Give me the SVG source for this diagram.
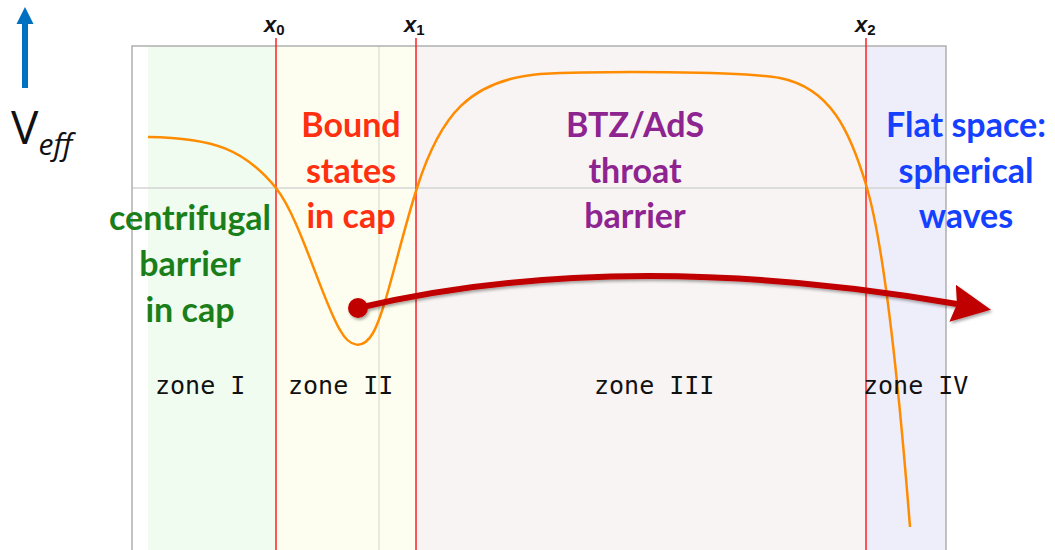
<svg xmlns="http://www.w3.org/2000/svg" width="1055" height="550" viewBox="0 0 1055 550">
<style>
.lbl{font-family:Lato,"Open Sans",sans-serif;font-weight:bold;font-size:34px;text-anchor:middle}
.zone{font-family:"DejaVu Sans Mono",monospace;font-size:25px;fill:#111}
.xl{font-family:"Liberation Sans",Arial,sans-serif;font-weight:bold;font-style:italic;font-size:22px;fill:#111}
.xs{font-size:15px;font-style:normal}
.bound{stroke:#ff2020;stroke-width:1.5}
</style>
<defs>
<marker id="ah" markerWidth="40" markerHeight="40" viewBox="0 0 36 36" refX="4" refY="18" orient="auto" markerUnits="userSpaceOnUse">
<path d="M0,1 L35,18 L0,35 L4,18 Z" fill="#c00000"/>
</marker>
<filter id="sh" x="-10%" y="-30%" width="120%" height="160%">
<feDropShadow dx="1.5" dy="2" stdDeviation="1.5" flood-color="#000" flood-opacity="0.35"/>
</filter>
</defs>
<rect width="1055" height="550" fill="#fff"/>
<g id="zones">
<rect x="148" y="46" width="128" height="504" fill="#f0fcf0"/>
<rect x="276" y="46" width="140" height="504" fill="#fefef0"/>
<rect x="416" y="46" width="450" height="504" fill="#f8f4f4"/>
<rect x="866" y="46" width="80" height="504" fill="#eeeefb"/>
<line x1="379" y1="46" x2="379" y2="550" stroke="#d6d6c6" stroke-width="1"/>
<line x1="132" y1="188" x2="946" y2="188" stroke="#d4d4d4" stroke-width="1.5"/>
<path d="M132,550 V46 H946 V550" fill="none" stroke="#b0b0b0" stroke-width="1.5"/>
</g>
<g id="boundaries">
<line class="bound" x1="276" y1="38" x2="276" y2="550"/>
<line class="bound" x1="416" y1="38" x2="416" y2="550"/>
<line class="bound" x1="866" y1="38" x2="866" y2="550"/>
<text class="xl" x="264" y="32">x<tspan class="xs" dy="3">0</tspan></text>
<text class="xl" x="404" y="32">x<tspan class="xs" dy="3">1</tspan></text>
<text class="xl" x="855" y="32">x<tspan class="xs" dy="3">2</tspan></text>
</g>
<g id="axis">
<line x1="25" y1="88" x2="25" y2="20" stroke="#0070c0" stroke-width="6"/>
<polygon points="25,7 33.5,24 16.5,24" fill="#0070c0"/>
<text x="11" y="144" font-family="'Open Sans',sans-serif" font-size="46" fill="#111">V<tspan font-size="30" font-style="italic" dy="11">eff</tspan></text>
</g>
<g id="potential">
<path d="M148,137 C215,138 245,150 276,188 C300,218 322,300 340,330 C350,348 363,350 373,333 C386,310 400,240 417,188 C440,115 470,80 540,74 C600,71 740,71 780,78 C830,88 850,130 867,188 C885,250 900,400 910,527" fill="none" stroke="#ff8c00" stroke-width="2.5"/>
</g>
<g id="connectors">
<g filter="url(#sh)">
<path d="M358,308 Q620,246 957,304" fill="none" stroke="#c00000" stroke-width="6" marker-end="url(#ah)"/>
<circle cx="358" cy="308" r="10" fill="#c00000"/>
</g>
</g>
<g id="label-cap">
<text class="lbl" fill="#1a7f1a"><tspan x="190" y="230">centrifugal</tspan><tspan x="190" y="276">barrier</tspan><tspan x="190" y="322">in cap</tspan></text>
</g>
<g id="label-bound">
<text class="lbl" fill="#ff3010"><tspan x="351" y="137">Bound</tspan><tspan x="351" y="183">states</tspan><tspan x="351" y="228">in cap</tspan></text>
</g>
<g id="label-btz">
<text class="lbl" fill="#8e2490"><tspan x="635" y="137">BTZ/AdS</tspan><tspan x="635" y="183">throat</tspan><tspan x="635" y="228">barrier</tspan></text>
</g>
<g id="label-flat">
<text class="lbl" fill="#1440ff"><tspan x="966" y="137">Flat space:</tspan><tspan x="966" y="183">spherical</tspan><tspan x="966" y="228">waves</tspan></text>
</g>
<g id="zone-labels">
<text class="zone" x="155" y="394">zone I</text>
<text class="zone" x="288" y="394">zone II</text>
<text class="zone" x="594" y="394">zone III</text>
<text class="zone" x="863" y="394">zone IV</text>
</g>
</svg>
